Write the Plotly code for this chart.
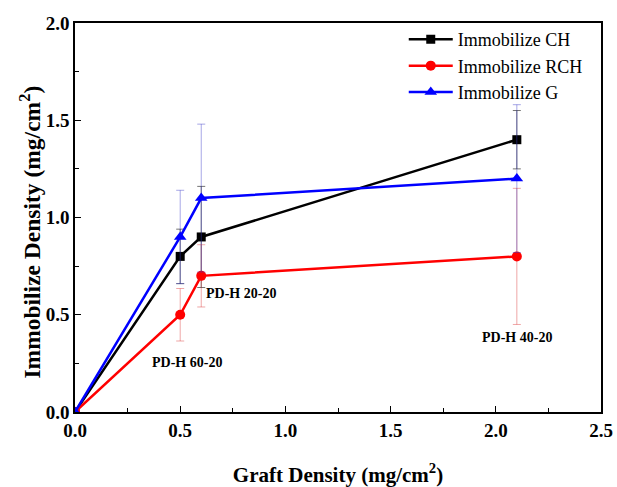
import plotly.graph_objects as go

# Graft density (mg/cm^2) for each sample
graft_density = [0.0, 0.5, 0.6, 2.1]

# Immobilized density (mg/cm^2) and standard deviations
ch_values = [0.0, 0.8, 0.9, 1.4]
ch_errors = [0.0, 0.14, 0.26, 0.15]

rch_values = [0.0, 0.5, 0.7, 0.8]
rch_errors = [0.0, 0.135, 0.16, 0.35]

g_values = [0.0, 0.9, 1.1, 1.2]
g_errors = [0.0, 0.24, 0.38, 0.38]

sample_labels = ["PD-H 60-20", "PD-H 20-20", "PD-H 40-20"]
label_x = [0.53, 0.79, 2.1]
label_y = [0.255, 0.607, 0.385]

SERIF = "Liberation Serif"

fig = go.Figure()

series = [
    ("Immobilize CH", ch_values, ch_errors, "#000000", "rgba(0,0,0,0.55)", "square", 9),
    ("Immobilize RCH", rch_values, rch_errors, "#ff0000", "rgba(220,60,60,0.45)", "circle", 10),
    ("Immobilize G", g_values, g_errors, "#0000ff", "rgba(60,60,200,0.45)", "triangle-up", 11),
]

for name, vals, errs, color, ecolor, symbol, msize in series:
    fig.add_trace(go.Scatter(
        x=graft_density, y=vals, name=name, mode="lines+markers",
        line=dict(color=color, width=2.5),
        marker=dict(symbol=symbol, size=msize, color=color),
        error_y=dict(type="data", array=errs, visible=True,
                     color=ecolor, thickness=1, width=4),
    ))

for text, lx, ly in zip(sample_labels, label_x, label_y):
    fig.add_annotation(x=lx, y=ly, text=f"<b>{text}</b>", showarrow=False,
                       font=dict(family=SERIF, size=14, color="#000"))

# Y-axis title, placed as a rotated annotation beside the tick labels
fig.add_annotation(xref="paper", yref="paper", x=-0.085, y=0.462,
                   xanchor="center", yanchor="middle", textangle=-90,
                   text="<b>Immobilize Density (mg/cm<sup>2</sup>)</b>", showarrow=False,
                   font=dict(family=SERIF, size=23.5, color="#000"))

axis_common = dict(
    showgrid=False, zeroline=False, showline=True, linecolor="#000", linewidth=1.5,
    mirror=True, ticks="inside", ticklen=6, tickwidth=1.2, tickcolor="#000",
    tickfont=dict(family=SERIF, size=19, color="#000", weight="bold"),
    automargin=False,
)

fig.update_layout(
    width=617, height=487,
    margin=dict(l=75, r=16, t=23, b=75),
    paper_bgcolor="white", plot_bgcolor="white",
    font=dict(family=SERIF, color="#000"),
    showlegend=True,
    legend=dict(x=0.625, y=1.005, xanchor="left", yanchor="top",
                bgcolor="rgba(0,0,0,0)", borderwidth=0,
                font=dict(family=SERIF, size=18, color="#000"),
                itemwidth=44, tracegroupgap=0),
    xaxis=dict(range=[0, 2.5], dtick=0.5, tickformat=".1f",
               minor=dict(ticks="inside", ticklen=4, dtick=0.25, tickcolor="#000"),
               title=dict(text="<b>Graft Density (mg/cm<sup>2</sup>)</b>",
                          font=dict(family=SERIF, size=21, color="#000"), standoff=30),
               **axis_common),
    yaxis=dict(range=[0, 2.0], dtick=0.5, tickformat=".1f",
               minor=dict(ticks="inside", ticklen=4, dtick=0.25, tickcolor="#000"),
               **axis_common),
)

fig.write_html("out.html")
